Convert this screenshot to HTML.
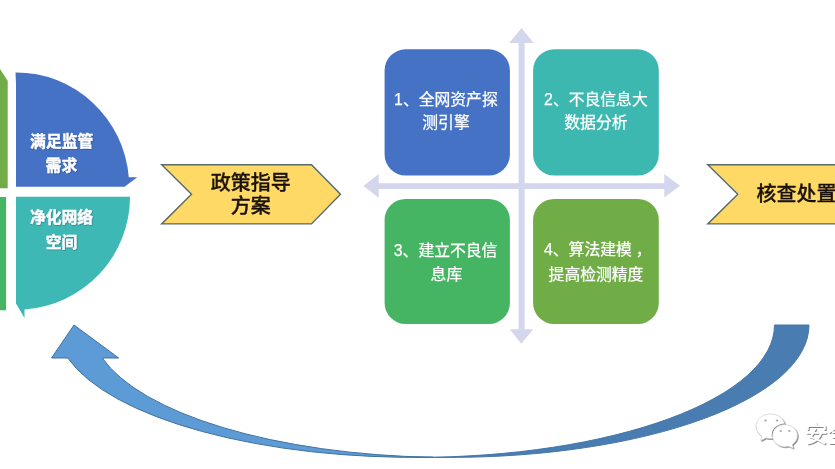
<!DOCTYPE html>
<html lang="zh">
<head>
<meta charset="utf-8">
<title>diagram</title>
<style>
html,body{margin:0;padding:0;background:#fff;}
body{width:835px;height:469px;overflow:hidden;position:relative;font-family:"Liberation Sans","Noto Sans CJK SC",sans-serif;}
svg{position:absolute;left:0;top:0;display:block;}
text{font-family:"Liberation Sans","Noto Sans CJK SC",sans-serif;}
.q{font-weight:bold;font-size:15.8px;fill:#fff;text-anchor:middle;stroke:#fff;stroke-width:0.35px;filter:url(#ts);}
.b{font-size:15.8px;fill:#fff;text-anchor:middle;stroke:#fff;stroke-width:0.25px;}
.c{font-size:20px;font-weight:500;fill:#1a1208;stroke:#1a1208;stroke-width:0.3px;text-anchor:middle;}
</style>
</head>
<body>
<svg width="835" height="469" viewBox="0 0 835 469">
<defs>
<filter id="ws" x="-20%" y="-20%" width="150%" height="150%"><feDropShadow dx="0.9" dy="0.9" stdDeviation="0.45" flood-color="#444" flood-opacity="0.75"/></filter>
<filter id="ts" x="-10%" y="-20%" width="120%" height="150%"><feDropShadow dx="0.6" dy="0.7" stdDeviation="0.5" flood-color="#1c2f5e" flood-opacity="0.45"/></filter>
<filter id="soft" x="-20" y="-20" width="875" height="509" filterUnits="userSpaceOnUse"><feGaussianBlur stdDeviation="0.5"/></filter>
</defs>
<rect width="835" height="469" fill="#fff"/>
<g filter="url(#soft)">

<!-- left green pieces -->
<path d="M-12,50.800 L7.700,80.700 L7.700,188.300 L-12,188.300 Z" fill="#70ad47"/>
<path d="M-12,197 L6.100,197 L6.100,310.300 L-12,310.300 Z" fill="#45b563"/>

<!-- blue quarter -->
<path d="M15.500,72.400 L16,84 L16,186.800 L124.500,186.800 L137.300,177.300 L128.800,177.300 A113,114.400 0 0 0 15.500,72.400 Z" fill="#4472c4"/>
<!-- teal quarter -->
<path d="M16,196.800 L130,196.800 A114,113 0 0 1 24.500,309.600 L24.500,318 L16,303.500 Z" fill="#3eb8b5"/>

<text class="q" x="61.7" y="146.9">满足监管</text>
<text class="q" x="61.4" y="171.2">需求</text>
<text class="q" x="61.5" y="222.6">净化网络</text>
<text class="q" x="61.5" y="248">空间</text>

<!-- chevron 1 -->
<path d="M161.700,164.800 L311.500,164.800 L340.500,194.300 L311.500,223.900 L161.700,223.900 L191.500,194.300 Z" fill="#ffd966" stroke="#566a6e" stroke-width="1.400"/>
<text class="c" x="250.7" y="189.6">政策指导</text>
<text class="c" x="250.8" y="213.4">方案</text>

<!-- chevron 2 -->
<path d="M707.800,164.800 L860,164.800 L860,223.900 L707.800,223.900 L737.800,194.300 Z" fill="#ffd966" stroke="#566a6e" stroke-width="1.400"/>
<text class="c" x="756.5" y="201" style="text-anchor:start">核查处置</text>

<!-- axes -->
<g fill="#d3d6ec">
<rect x="378" y="183.200" width="287" height="5.800"/>
<path d="M363.500,186 L378.700,174 L378.700,197.800 Z"/>
<path d="M680,185.800 L664.300,174 L664.300,197.500 Z"/>
<rect x="518.600" y="42" width="6" height="288"/>
<path d="M521.500,28 L509.300,43 L533.700,43 Z"/>
<path d="M521.300,343.700 L509.700,329.300 L533.100,329.300 Z"/>
</g>

<!-- boxes -->
<rect x="384.600" y="49.300" width="125.300" height="126.200" rx="21" fill="#4472c4"/>
<rect x="533.100" y="49.300" width="125.700" height="126.200" rx="21" fill="#3eb8b0"/>
<rect x="384.600" y="198.900" width="125.300" height="125.100" rx="21" fill="#45b563"/>
<rect x="533.100" y="198.900" width="125.700" height="125.100" rx="21" fill="#70ad47"/>

<text class="b" x="445.9" y="104.7">1、全网资产探</text>
<text class="b" x="446" y="128.1">测引擎</text>
<text class="b" x="595.9" y="105.2">2、不良信息大</text>
<text class="b" x="595.9" y="128.4">数据分析</text>
<text class="b" x="445.6" y="255.6">3、建立不良信</text>
<text class="b" x="446.4" y="279.8">息库</text>
<text class="b" x="544" y="255.2" style="text-anchor:start">4、算法建模<tspan dx="4">，</tspan></text>
<text class="b" x="596" y="279.5">提高检测精度</text>

<!-- curved arrow -->
<path d="M74,325 L51.5,358 L67.8,358 A359,132.4 0 0 0 432.75,457.25 A359,132.4 0 0 1 102.3,358 L118.7,358 Z" fill="#5b9bd5" stroke="#41719c" stroke-width="1" stroke-linejoin="miter"/>
<path d="M450,457.4 A359,132.4 0 0 0 809,325 L774.5,325 A359,132.4 0 0 1 415.5,457.4 Z" fill="#497cb0" stroke="#4576a8" stroke-width="1"/>

<!-- watermark -->
<g filter="url(#ws)">
<path d="M770.500,414 C762.500,414 756,419.500 756,426.300 C756,430.200 758.200,433.700 761.700,436 L760.800,440.600 L765.800,438 C767.300,438.400 768.900,438.600 770.500,438.600 C778.500,438.600 785,433.100 785,426.300 C785,419.500 778.500,414 770.500,414 Z" fill="#fff" stroke="#c8c8c8" stroke-width="0.600"/>
</g>
<path d="M772.300,437 C771.500,430 776.500,424.300 785,424" fill="none" stroke="#8c8c8c" stroke-width="1.100"/>
<g filter="url(#ws)">
<path d="M785,424.800 C778.100,424.800 772.600,429.700 772.600,435.800 C772.600,441.900 778.100,446.800 785,446.800 C786.300,446.800 787.600,446.600 788.800,446.300 L793.200,448.300 L792.300,444.600 C795.400,442.600 797.400,439.400 797.400,435.800 C797.400,429.700 791.900,424.800 785,424.800 Z" fill="#fff" stroke="#c8c8c8" stroke-width="0.500"/>
</g>
<g fill="#a9a9a9">
<ellipse cx="765.500" cy="420.500" rx="1.300" ry="1"/>
<ellipse cx="777" cy="420.500" rx="1.300" ry="1"/>
<ellipse cx="780.800" cy="431" rx="1.200" ry="0.900"/>
<ellipse cx="789.400" cy="431" rx="1.200" ry="0.900"/>
</g>
<text x="804.800" y="441.500" font-size="23" fill="#fff" filter="url(#ws)">安全</text>
</g>
</svg>
</body>
</html>
